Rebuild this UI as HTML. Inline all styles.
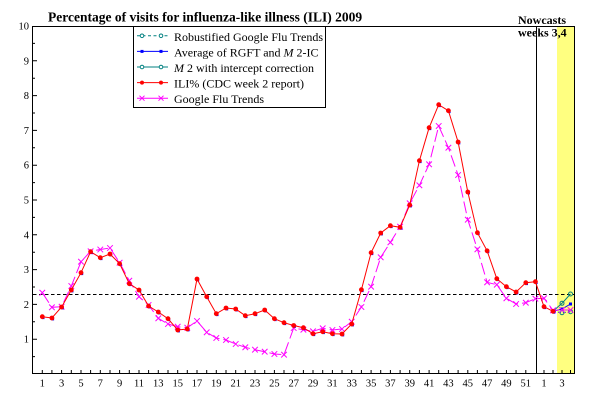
<!DOCTYPE html>
<html>
<head>
<meta charset="utf-8">
<style>
html,body{margin:0;padding:0;background:#fff;}
svg{display:block;}
text{font-family:"Liberation Serif","Times New Roman",serif;}
</style>
</head>
<body>
<svg width="600" height="400" viewBox="0 0 600 400" xmlns="http://www.w3.org/2000/svg">
<defs>
  <marker id="mdot" markerUnits="userSpaceOnUse" markerWidth="10" markerHeight="10" refX="5" refY="5">
    <circle cx="5" cy="5" r="2.4" fill="#ff0000"/>
  </marker>
  <marker id="mblue" markerUnits="userSpaceOnUse" markerWidth="10" markerHeight="10" refX="5" refY="5">
    <rect x="4.6" y="4.8" width="2.6" height="2.6" fill="#0000ff"/>
  </marker>
  <marker id="msq" markerUnits="userSpaceOnUse" markerWidth="10" markerHeight="10" refX="5" refY="5">
    <rect x="3.5" y="3.5" width="3" height="3" fill="#0000ff"/>
  </marker>
  <marker id="mx" markerUnits="userSpaceOnUse" markerWidth="10" markerHeight="10" refX="5" refY="5">
    <path d="M2.2,2.2 L7.8,7.8 M2.2,7.8 L7.8,2.2" stroke="#ff00ff" stroke-width="1" fill="none"/>
  </marker>
  <marker id="mcirc" markerUnits="userSpaceOnUse" markerWidth="10" markerHeight="10" refX="5" refY="5">
    <circle cx="5" cy="5" r="2" fill="none" stroke="#008080" stroke-width="1"/>
  </marker>
</defs>

<!-- yellow nowcast band -->
<rect x="557" y="26" width="17.5" height="348" fill="#ffff80"/>

<!-- title -->
<text x="48" y="21.5" font-size="13.5" font-weight="bold" fill="#000">Percentage of visits for influenza-like illness (ILI) 2009</text>

<!-- Nowcasts label -->
<text x="518" y="24" font-size="12" font-weight="bold" fill="#000">Nowcasts</text>
<text x="518" y="36.5" font-size="12" font-weight="bold" fill="#000">weeks 3,4</text>

<!-- plot frame -->
<rect x="32.5" y="26.5" width="542" height="347" fill="none" stroke="#000" stroke-width="1"/>

<!-- y ticks -->
<path stroke="#000" stroke-width="1" fill="none" d="
M33,339.2 H37 M33,304.4 H37 M33,269.6 H37 M33,234.8 H37 M33,200 H37 M33,165.2 H37 M33,130.4 H37 M33,95.6 H37 M33,60.8 H37
M33,356.6 H35 M33,321.8 H35 M33,287 H35 M33,252.2 H35 M33,217.4 H35 M33,182.6 H35 M33,147.8 H35 M33,113 H35 M33,78.2 H35 M33,43.4 H35"/>

<!-- y labels -->
<g font-size="10.5" text-anchor="end" fill="#000">
<text x="29" y="342.7">1</text>
<text x="29" y="307.9">2</text>
<text x="29" y="273.1">3</text>
<text x="29" y="238.3">4</text>
<text x="29" y="203.5">5</text>
<text x="29" y="168.7">6</text>
<text x="29" y="133.9">7</text>
<text x="29" y="99.1">8</text>
<text x="29" y="64.3">9</text>
<text x="29" y="29.5">10</text>
</g>

<!-- x ticks -->
<path stroke="#000" stroke-width="1" fill="none" d="
M42.3,374V370 M51.9,374V370 M61.6,374V370 M71.3,374V370 M81,374V370 M90.6,374V370 M100.3,374V370 M110,374V370 M119.6,374V370 M129.3,374V370
M139,374V370 M148.6,374V370 M158.3,374V370 M168,374V370 M177.7,374V370 M187.3,374V370 M197,374V370 M206.7,374V370 M216.3,374V370 M226,374V370
M235.7,374V370 M245.3,374V370 M255,374V370 M264.7,374V370 M274.4,374V370 M284,374V370 M293.7,374V370 M303.4,374V370 M313,374V370 M322.7,374V370
M332.4,374V370 M342,374V370 M351.7,374V370 M361.4,374V370 M371.1,374V370 M380.7,374V370 M390.4,374V370 M400.1,374V370 M409.7,374V370 M419.4,374V370
M429.1,374V370 M438.7,374V370 M448.4,374V370 M458.1,374V370 M467.8,374V370 M477.4,374V370 M487.1,374V370 M496.8,374V370 M506.4,374V370 M516.1,374V370
M525.8,374V370 M544,374V370 M553,374V370 M562,374V370 M570.5,374V370"/>

<!-- x labels -->
<g font-size="10.5" text-anchor="middle" fill="#000">
<text x="42.3" y="386.5">1</text>
<text x="61.6" y="386.5">3</text>
<text x="81" y="386.5">5</text>
<text x="100.3" y="386.5">7</text>
<text x="119.6" y="386.5">9</text>
<text x="139" y="386.5">11</text>
<text x="158.3" y="386.5">13</text>
<text x="177.7" y="386.5">15</text>
<text x="197" y="386.5">17</text>
<text x="216.3" y="386.5">19</text>
<text x="235.7" y="386.5">21</text>
<text x="255" y="386.5">23</text>
<text x="274.4" y="386.5">25</text>
<text x="293.7" y="386.5">27</text>
<text x="313" y="386.5">29</text>
<text x="332.4" y="386.5">31</text>
<text x="351.7" y="386.5">33</text>
<text x="371.1" y="386.5">35</text>
<text x="390.4" y="386.5">37</text>
<text x="409.7" y="386.5">39</text>
<text x="429.1" y="386.5">41</text>
<text x="448.4" y="386.5">43</text>
<text x="467.8" y="386.5">45</text>
<text x="487.1" y="386.5">47</text>
<text x="506.4" y="386.5">49</text>
<text x="525.8" y="386.5">51</text>
<text x="544" y="386.5">1</text>
<text x="562" y="386.5">3</text>
</g>

<!-- baseline dashed -->
<line x1="33" y1="294.5" x2="574" y2="294.5" stroke="#000" stroke-width="1" stroke-dasharray="3.5,2.5"/>

<!-- nowcast vertical line -->
<line x1="536.5" y1="26" x2="536.5" y2="374" stroke="#000" stroke-width="1"/>

<!-- nowcast series -->
<path d="M553,311.3 L562,312.7 L570.5,311.7" fill="none" stroke="#008080" stroke-width="1" stroke-dasharray="3,2" marker-mid="url(#mcirc)" marker-end="url(#mcirc)"/>
<path d="M553,311.3 L562,303.3 L570.5,294" fill="none" stroke="#008080" stroke-width="1" marker-mid="url(#mcirc)" marker-end="url(#mcirc)"/>
<path d="M553,311.3 L562,309 L570.5,304" fill="none" stroke="#0000ff" stroke-width="1" marker-mid="url(#msq)" marker-end="url(#msq)"/>

<!-- Google Flu Trends -->
<path fill="none" stroke="#ff00ff" stroke-width="1" stroke-dasharray="12,4"
 marker-start="url(#mx)" marker-mid="url(#mx)" marker-end="url(#mx)"
 d="M42.3,292.7 L51.9,307.3 L61.6,306.7 L71.3,286 L81,261.7 L90.6,251.3 L100.3,249.5 L110,248 L119.6,262.7 L129.3,280.7 L139,296.7 L148.6,305 L158.3,318.3 L168,324 L177.7,326.7 L187.3,327.7 L197,321 L206.7,332.3 L216.3,338 L226,340 L235.7,344 L245.3,347.3 L255,349.7 L264.7,351.7 L274.4,354 L284,354.7 L293.7,328 L303.4,329.7 L313,331.3 L322.7,328.3 L332.4,330 L342,329 L351.7,321.7 L361.4,307 L371.1,286.7 L380.7,257.3 L390.4,242.3 L400.1,226.7 L409.7,203.3 L419.4,185.3 L429.1,164.3 L438.7,126 L448.4,147.7 L458.1,175 L467.8,219.7 L477.4,249.3 L487.1,282.3 L496.8,284.7 L506.4,298.3 L516.1,304 L525.8,302.7 L535.4,298.7 L544,298.3 L553,310.3 L562,310 L570.5,310"/>

<!-- blue markers under ILI -->
<path fill="none" stroke="none"
 marker-start="url(#mblue)" marker-mid="url(#mblue)" marker-end="url(#mblue)"
 d="M42.3,316.7 L51.9,318 L61.6,307 L71.3,290 L81,272.7 L90.6,251.7 L100.3,257.7 L110,254 L119.6,263.7 L129.3,283.7 L139,290 L148.6,306 L158.3,312 L168,318.7 L177.7,330 L187.3,329 L197,279 L206.7,296.7 L216.3,313.7 L226,308 L235.7,309 L245.3,315.7 L255,313.7 L264.7,310 L274.4,318.7 L284,322.7 L293.7,325.5 L303.4,327.7 L313,333.7 L322.7,331.7 L332.4,333.7 L342,334 L351.7,324 L361.4,289.7 L371.1,252.7 L380.7,233 L390.4,225.7 L400.1,227.3 L409.7,205 L419.4,160.7 L429.1,127.7 L438.7,104.7 L448.4,110.7 L458.1,142 L467.8,192 L477.4,232.7 L487.1,250.8 L496.8,278.7 L506.4,286.7 L516.1,292 L525.8,282.7 L535.4,281.7 L544,306.7 L553,311.3"/>

<!-- ILI% -->
<path fill="none" stroke="#ff0000" stroke-width="1"
 marker-start="url(#mdot)" marker-mid="url(#mdot)" marker-end="url(#mdot)"
 d="M42.3,316.7 L51.9,318 L61.6,307 L71.3,290 L81,272.7 L90.6,251.7 L100.3,257.7 L110,254 L119.6,263.7 L129.3,283.7 L139,290 L148.6,306 L158.3,312 L168,318.7 L177.7,330 L187.3,329 L197,279 L206.7,296.7 L216.3,313.7 L226,308 L235.7,309 L245.3,315.7 L255,313.7 L264.7,310 L274.4,318.7 L284,322.7 L293.7,325.5 L303.4,327.7 L313,333.7 L322.7,331.7 L332.4,333.7 L342,334 L351.7,324 L361.4,289.7 L371.1,252.7 L380.7,233 L390.4,225.7 L400.1,227.3 L409.7,205 L419.4,160.7 L429.1,127.7 L438.7,104.7 L448.4,110.7 L458.1,142 L467.8,192 L477.4,232.7 L487.1,250.8 L496.8,278.7 L506.4,286.7 L516.1,292 L525.8,282.7 L535.4,281.7 L544,306.7 L553,311.3"/>

<!-- legend -->
<rect x="133.5" y="26.5" width="192" height="81" fill="#fff" stroke="#000" stroke-width="1"/>
<path d="M137,35.8 H168" stroke="#008080" stroke-width="1" stroke-dasharray="3,2.5" fill="none"/>
<circle cx="142" cy="35.8" r="1.8" fill="#fff" stroke="#008080" stroke-width="1"/>
<circle cx="161" cy="35.8" r="1.8" fill="#fff" stroke="#008080" stroke-width="1"/>

<path d="M137,51.4 H168" stroke="#0000ff" stroke-width="1" fill="none"/>
<rect x="140.5" y="49.9" width="3" height="3" fill="#0000ff"/>
<rect x="159.5" y="49.9" width="3" height="3" fill="#0000ff"/>

<path d="M137,67 H168" stroke="#008080" stroke-width="1" fill="none"/>
<circle cx="142" cy="67" r="1.8" fill="#fff" stroke="#008080" stroke-width="1"/>
<circle cx="161" cy="67" r="1.8" fill="#fff" stroke="#008080" stroke-width="1"/>

<path d="M137,82.6 H168" stroke="#ff0000" stroke-width="1" fill="none"/>
<circle cx="142" cy="82.6" r="2" fill="#ff0000"/>
<circle cx="161" cy="82.6" r="2" fill="#ff0000"/>

<path d="M137,98.2 H168" stroke="#ff00ff" stroke-width="1" fill="none"/>
<path d="M139.5,95.7 l5,5 M139.5,100.7 l5,-5 M158.5,95.7 l5,5 M158.5,100.7 l5,-5" stroke="#ff00ff" stroke-width="1" fill="none"/>

<g font-size="12" fill="#000">
<text x="174" y="40.8">Robustified Google Flu Trends</text>
<text x="174" y="56.4">Average of RGFT and <tspan font-style="italic">M</tspan> 2-IC</text>
<text x="174" y="72"><tspan font-style="italic">M</tspan> 2 with intercept correction</text>
<text x="174" y="87.6">ILI% (CDC week 2 report)</text>
<text x="174" y="103.2">Google Flu Trends</text>
</g>
</svg>
</body>
</html>
